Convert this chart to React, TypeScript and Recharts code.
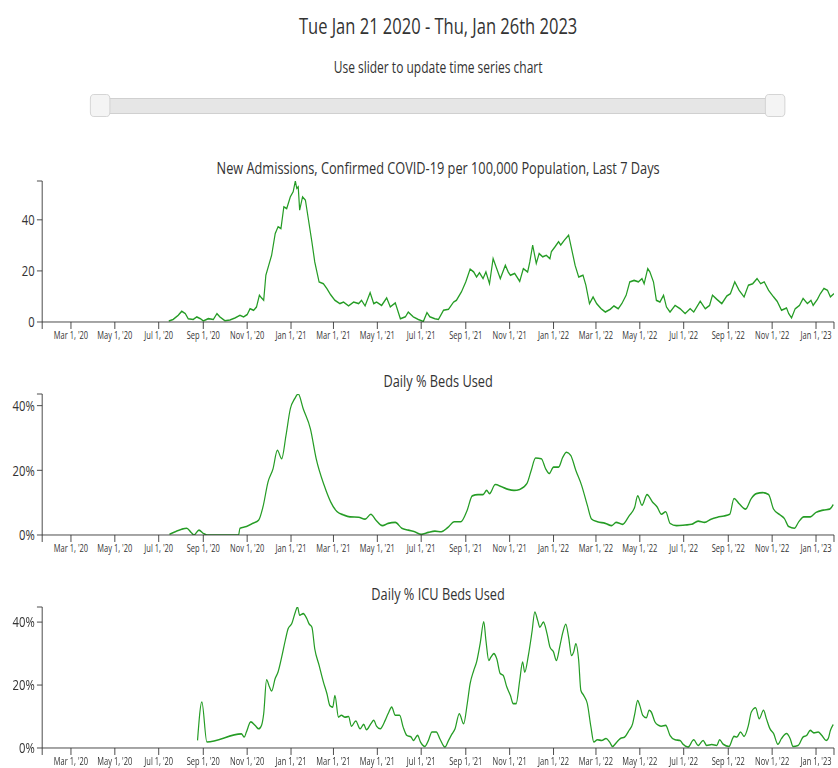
import React from 'react';
import { LineChart, Line, XAxis, YAxis } from 'recharts';

// ---------- data ----------
const domainDates = ['2020-01-21', '2023-01-26'];
const xTickDates = [
  '2020-03-01', '2020-05-01', '2020-07-01', '2020-09-01', '2020-11-01',
  '2021-01-01', '2021-03-01', '2021-05-01', '2021-07-01', '2021-09-01', '2021-11-01',
  '2022-01-01', '2022-03-01', '2022-05-01', '2022-07-01', '2022-09-01', '2022-11-01',
  '2023-01-01',
];
const xTickLabels = [
  "Mar 1, '20", "May 1, '20", "Jul 1, '20", "Sep 1, '20", "Nov 1, '20",
  "Jan 1, '21", "Mar 1, '21", "May 1, '21", "Jul 1, '21", "Sep 1, '21", "Nov 1, '21",
  "Jan 1, '22", "Mar 1, '22", "May 1, '22", "Jul 1, '22", "Sep 1, '22", "Nov 1, '22",
  "Jan 1, '23",
];

const admitDates = [
  '2020-07-15', '2020-07-21', '2020-07-28', '2020-08-02', '2020-08-07', '2020-08-11', '2020-08-18', '2020-08-23',
  '2020-08-28', '2020-09-01', '2020-09-08', '2020-09-15', '2020-09-20', '2020-09-24', '2020-10-01', '2020-10-08',
  '2020-10-15', '2020-10-22', '2020-10-27', '2020-11-01', '2020-11-05', '2020-11-10', '2020-11-14', '2020-11-18',
  '2020-11-21', '2020-11-24', '2020-11-27', '2020-12-01', '2020-12-05', '2020-12-10', '2020-12-14', '2020-12-18',
  '2020-12-22', '2020-12-26', '2020-12-31', '2021-01-04', '2021-01-07', '2021-01-09', '2021-01-11', '2021-01-13',
  '2021-01-17', '2021-01-21', '2021-01-25', '2021-01-30', '2021-02-03', '2021-02-09', '2021-02-15', '2021-02-20',
  '2021-02-25', '2021-03-03', '2021-03-10', '2021-03-15', '2021-03-22', '2021-03-29', '2021-04-05', '2021-04-09',
  '2021-04-14', '2021-04-21', '2021-04-26', '2021-04-30', '2021-05-07', '2021-05-14', '2021-05-19', '2021-05-26',
  '2021-06-02', '2021-06-09', '2021-06-13', '2021-06-20', '2021-06-27', '2021-07-04', '2021-07-09', '2021-07-13',
  '2021-07-20', '2021-07-25', '2021-08-01', '2021-08-08', '2021-08-15', '2021-08-19', '2021-08-26', '2021-09-01',
  '2021-09-07', '2021-09-12', '2021-09-16', '2021-09-20', '2021-09-25', '2021-09-29', '2021-10-04', '2021-10-09',
  '2021-10-14', '2021-10-19', '2021-10-26', '2021-10-30', '2021-11-02', '2021-11-08', '2021-11-15', '2021-11-20',
  '2021-11-26', '2021-11-29', '2021-12-03', '2021-12-08', '2021-12-12', '2021-12-17', '2021-12-22', '2021-12-27',
  '2021-12-29', '2022-01-03', '2022-01-08', '2022-01-11', '2022-01-16', '2022-01-22', '2022-01-26', '2022-01-31',
  '2022-02-05', '2022-02-11', '2022-02-15', '2022-02-20', '2022-02-25', '2022-03-02', '2022-03-08', '2022-03-14',
  '2022-03-21', '2022-03-26', '2022-04-01', '2022-04-06', '2022-04-12', '2022-04-17', '2022-04-23', '2022-04-29',
  '2022-05-04', '2022-05-07', '2022-05-12', '2022-05-15', '2022-05-20', '2022-05-24', '2022-05-29', '2022-06-03',
  '2022-06-07', '2022-06-12', '2022-06-19', '2022-06-26', '2022-07-03', '2022-07-10', '2022-07-15', '2022-07-24',
  '2022-07-31', '2022-08-06', '2022-08-10', '2022-08-16', '2022-08-23', '2022-08-30', '2022-09-04', '2022-09-10',
  '2022-09-16', '2022-09-23', '2022-09-29', '2022-10-05', '2022-10-11', '2022-10-16', '2022-10-21', '2022-10-27',
  '2022-11-03', '2022-11-08', '2022-11-14', '2022-11-21', '2022-11-24', '2022-11-28', '2022-12-03', '2022-12-09',
  '2022-12-14', '2022-12-20', '2022-12-25', '2022-12-28', '2023-01-03', '2023-01-07', '2023-01-12', '2023-01-17',
  '2023-01-21', '2023-01-26',
];
const admitValues = [
  0.4, 1.0, 2.6, 4.2, 3.3, 1.3, 1.0, 2.0,
  1.3, 0.4, 1.3, 1.0, 3.3, 2.0, 0.5, 0.8,
  1.6, 2.6, 2.0, 2.9, 5.2, 4.6, 5.9, 10.5,
  9.4, 8.5, 18.3, 22.2, 26.1, 34.6, 37.3, 36.6,
  45.1, 44.4, 49.0, 51.0, 55.2, 52.3, 52.9, 43.8,
  49.0, 47.7, 40.5, 31.4, 23.5, 15.7, 15.0, 13.0,
  10.7, 8.5, 7.2, 7.8, 6.3, 7.8, 7.2, 8.5,
  6.3, 11.5, 7.2, 7.8, 6.5, 9.4, 5.9, 7.5,
  1.3, 2.0, 3.9, 2.0, 1.0, 0.2, 3.7, 2.0,
  1.3, 1.0, 4.6, 5.0, 7.8, 8.5, 11.8, 15.7,
  20.7, 19.6, 17.6, 19.3, 17.0, 19.6, 15.0, 24.8,
  20.9, 17.0, 22.2, 19.6, 18.3, 19.0, 15.9, 20.9,
  19.6, 23.5, 30.1, 22.9, 26.8, 25.5, 26.1, 24.8,
  27.5, 29.4, 31.4, 30.1, 32.0, 34.0, 28.8, 22.2,
  17.6, 18.3, 14.4, 7.2, 9.8, 7.2, 5.2, 3.9,
  5.0, 6.3, 5.2, 7.2, 10.5, 15.7, 16.3, 15.7,
  17.0, 15.0, 20.9, 19.6, 15.7, 8.5, 7.8, 10.5,
  5.9, 3.9, 6.5, 5.2, 3.3, 5.2, 3.9, 8.1,
  5.2, 6.5, 10.5, 8.9, 7.2, 10.2, 11.1, 15.7,
  12.4, 9.8, 14.4, 15.0, 17.0, 15.0, 15.7, 12.4,
  9.8, 8.1, 4.6, 5.5, 3.3, 1.6, 5.2, 6.5,
  9.2, 7.2, 8.5, 6.5, 8.9, 11.1, 13.1, 12.4,
  9.8, 11.1,
];

const bedDates = [
  '2020-07-16', '2020-07-24', '2020-08-02', '2020-08-09', '2020-08-15', '2020-08-19', '2020-08-26', '2020-09-01',
  '2020-09-06', '2020-09-28', '2020-10-20', '2020-10-22', '2020-10-31', '2020-11-09', '2020-11-17', '2020-11-23',
  '2020-11-30', '2020-12-07', '2020-12-13', '2020-12-19', '2020-12-25', '2020-12-31', '2021-01-06', '2021-01-11',
  '2021-01-18', '2021-01-28', '2021-02-05', '2021-02-16', '2021-02-25', '2021-03-06', '2021-03-15', '2021-03-24',
  '2021-04-05', '2021-04-14', '2021-04-22', '2021-04-29', '2021-05-08', '2021-05-16', '2021-05-26', '2021-06-04',
  '2021-06-13', '2021-06-22', '2021-07-01', '2021-07-11', '2021-07-20', '2021-07-29', '2021-08-07', '2021-08-16',
  '2021-08-25', '2021-09-03', '2021-09-10', '2021-09-18', '2021-09-25', '2021-09-30', '2021-10-04', '2021-10-12',
  '2021-10-21', '2021-10-30', '2021-11-07', '2021-11-15', '2021-11-25', '2021-12-01', '2021-12-07', '2021-12-15',
  '2021-12-21', '2021-12-26', '2022-01-01', '2022-01-08', '2022-01-14', '2022-01-19', '2022-01-25', '2022-02-01',
  '2022-02-09', '2022-02-17', '2022-02-23', '2022-03-03', '2022-03-14', '2022-03-23', '2022-03-29', '2022-04-07',
  '2022-04-16', '2022-04-24', '2022-04-28', '2022-05-04', '2022-05-11', '2022-05-19', '2022-05-25', '2022-05-31',
  '2022-06-06', '2022-06-12', '2022-06-21', '2022-07-03', '2022-07-12', '2022-07-21', '2022-07-30', '2022-08-08',
  '2022-08-17', '2022-08-26', '2022-09-03', '2022-09-09', '2022-09-16', '2022-09-25', '2022-10-03', '2022-10-10',
  '2022-10-19', '2022-10-27', '2022-11-03', '2022-11-12', '2022-11-18', '2022-11-24', '2022-12-02', '2022-12-08',
  '2022-12-15', '2022-12-24', '2023-01-01', '2023-01-11', '2023-01-20', '2023-01-25',
];
const bedValues = [
  0.2, 1.0, 1.8, 2.1, 0.8, 0.0, 1.5, 0.5,
  0.0, 0.0, 0.0, 2.1, 2.6, 3.6, 4.6, 8.7,
  16.4, 20.5, 26.2, 23.6, 30.8, 39.0, 42.1, 43.6,
  39.0, 32.8, 23.6, 15.4, 10.3, 7.2, 6.2, 5.6,
  5.5, 4.9, 6.4, 4.6, 2.9, 3.6, 3.9, 2.1,
  1.5, 1.0, 0.2, 0.8, 1.2, 1.0, 2.3, 4.1,
  4.1, 7.7, 12.1, 12.5, 12.5, 13.8, 12.8, 15.6,
  14.9, 14.1, 13.8, 14.1, 15.9, 20.0, 23.8, 23.6,
  20.5, 19.0, 21.0, 21.0, 24.1, 25.6, 24.6, 20.0,
  15.4, 9.2, 4.9, 4.1, 3.6, 2.9, 3.9, 3.3,
  5.9, 8.7, 12.1, 9.2, 12.5, 10.1, 8.7, 6.4,
  7.2, 3.6, 2.9, 3.1, 3.3, 4.3, 3.9, 4.9,
  5.5, 5.9, 6.4, 11.3, 9.7, 8.0, 11.3, 12.8,
  13.1, 12.5, 8.0, 6.2, 5.1, 2.6, 2.1, 4.1,
  5.6, 5.6, 7.0, 7.7, 8.0, 9.4,
];

const icuDates = [
  '2020-08-24', '2020-08-30', '2020-09-06', '2020-10-24', '2020-10-28', '2020-10-31', '2020-11-06', '2020-11-12',
  '2020-11-17', '2020-11-21', '2020-11-24', '2020-11-28', '2020-12-02', '2020-12-05', '2020-12-10', '2020-12-14',
  '2020-12-19', '2020-12-24', '2020-12-28', '2021-01-02', '2021-01-07', '2021-01-10', '2021-01-13', '2021-01-18',
  '2021-01-23', '2021-01-26', '2021-01-30', '2021-02-03', '2021-02-09', '2021-02-15', '2021-02-20', '2021-02-24',
  '2021-02-28', '2021-03-03', '2021-03-08', '2021-03-12', '2021-03-17', '2021-03-22', '2021-03-26', '2021-04-01',
  '2021-04-07', '2021-04-12', '2021-04-16', '2021-04-22', '2021-04-26', '2021-04-30', '2021-05-05', '2021-05-12',
  '2021-05-16', '2021-05-21', '2021-05-26', '2021-06-01', '2021-06-06', '2021-06-11', '2021-06-17', '2021-06-20',
  '2021-06-26', '2021-06-30', '2021-07-06', '2021-07-11', '2021-07-16', '2021-07-22', '2021-07-27', '2021-08-03',
  '2021-08-08', '2021-08-13', '2021-08-17', '2021-08-23', '2021-08-29', '2021-09-03', '2021-09-07', '2021-09-12',
  '2021-09-16', '2021-09-21', '2021-09-26', '2021-09-29', '2021-10-03', '2021-10-06', '2021-10-10', '2021-10-14',
  '2021-10-19', '2021-10-23', '2021-10-28', '2021-11-02', '2021-11-06', '2021-11-10', '2021-11-15', '2021-11-19',
  '2021-11-22', '2021-11-27', '2021-12-02', '2021-12-06', '2021-12-10', '2021-12-13', '2021-12-18', '2021-12-23',
  '2021-12-27', '2022-01-01', '2022-01-05', '2022-01-10', '2022-01-14', '2022-01-18', '2022-01-22', '2022-01-26',
  '2022-01-29', '2022-02-01', '2022-02-05', '2022-02-08', '2022-02-12', '2022-02-17', '2022-02-22', '2022-02-26',
  '2022-03-03', '2022-03-09', '2022-03-15', '2022-03-20', '2022-03-24', '2022-03-30', '2022-04-04', '2022-04-10',
  '2022-04-16', '2022-04-21', '2022-04-24', '2022-04-28', '2022-05-01', '2022-05-05', '2022-05-10', '2022-05-14',
  '2022-05-17', '2022-05-22', '2022-05-27', '2022-05-31', '2022-06-06', '2022-06-12', '2022-06-19', '2022-06-26',
  '2022-06-30', '2022-07-07', '2022-07-15', '2022-07-21', '2022-07-28', '2022-08-02', '2022-08-09', '2022-08-16',
  '2022-08-20', '2022-08-25', '2022-09-02', '2022-09-09', '2022-09-13', '2022-09-18', '2022-09-23', '2022-09-29',
  '2022-10-03', '2022-10-09', '2022-10-14', '2022-10-20', '2022-10-24', '2022-10-29', '2022-11-03', '2022-11-09',
  '2022-11-14', '2022-11-21', '2022-11-26', '2022-11-30', '2022-12-07', '2022-12-14', '2022-12-19', '2022-12-24',
  '2022-12-29', '2023-01-04', '2023-01-09', '2023-01-15', '2023-01-18', '2023-01-21', '2023-01-25',
];
const icuValues = [
  2.4, 14.6, 1.9, 4.5, 3.5, 5.1, 8.3, 7.2,
  6.1, 7.2, 10.9, 21.7, 19.4, 18.1, 22.1, 24.2,
  28.9, 34.2, 37.9, 39.5, 43.2, 44.8, 42.2, 42.7,
  41.1, 39.5, 38.4, 31.5, 26.3, 21.0, 17.2, 13.5,
  13.0, 16.7, 9.8, 10.4, 9.8, 10.0, 6.9, 8.6,
  6.1, 7.5, 5.8, 7.7, 8.8, 6.9, 6.1, 8.8,
  10.9, 13.0, 10.4, 10.4, 6.6, 4.0, 3.5, 2.4,
  4.0, 1.9, 0.5, 2.4, 5.1, 5.1, 2.9, 0.3,
  2.4, 4.5, 6.1, 10.9, 7.7, 14.0, 20.4, 24.6,
  27.3, 33.2, 40.1, 34.2, 27.8, 28.9, 30.0, 28.4,
  23.6, 23.1, 19.4, 16.7, 14.1, 14.1, 21.5, 27.3,
  24.1, 29.4, 36.8, 43.2, 40.5, 38.4, 40.0, 36.3,
  32.1, 30.5, 27.8, 32.6, 36.8, 39.3, 35.2, 29.4,
  30.5, 33.1, 27.8, 18.3, 16.7, 14.1, 6.7, 1.9,
  2.6, 2.4, 3.0, 1.9, 0.5, 1.9, 3.0, 3.5,
  5.6, 7.7, 10.9, 15.1, 13.5, 10.4, 9.6, 12.0,
  11.4, 8.3, 7.2, 6.9, 7.2, 4.0, 2.6, 2.4,
  1.2, 0.3, 2.6, 0.8, 2.4, 0.8, 1.1, 0.8,
  2.6, 1.2, 0.5, 3.7, 3.5, 5.1, 3.7, 7.2,
  11.4, 12.8, 9.3, 12.0, 9.3, 6.1, 4.6, 1.2,
  3.0, 4.6, 3.0, 0.5, 0.8, 3.5, 4.0, 5.6,
  4.8, 5.1, 4.0, 2.4, 3.0, 5.6, 7.5,
];

const countTicks = [0, 20, 40];

// ---------- layout ----------
const S = 0.75; // horizontal squeeze of the reference
const W = 838 / S;
const PLOT_L = 42.2 / S;
const PLOT_R = 834 / S;
const PLOT_H = 141;
const M_TOP = 6;
const X_H = 30;
const TXT = '#333';
const GREEN = '#259c25';

const x0 = Date.parse(domainDates[0]);
const x1 = Date.parse(domainDates[1]);
const tickMs = xTickDates.map((d) => Date.parse(d));

function fmtX(v: number) {
  const i = tickMs.indexOf(v);
  return i >= 0 ? xTickLabels[i] : '';
}

function Panel(props: {
  plotTop: number;
  titleTop: number;
  title: string;
  dates: string[];
  values: number[];
  pct: boolean;
  curve: 'linear' | 'monotone';
}) {
  const { plotTop, titleTop, title, dates, values, pct, curve } = props;
  const data = dates.map((d, i) => ({ t: Date.parse(d), v: values[i] }));
  const maxV = Math.max(...values);
  const yTicks = [...countTicks, maxV];
  const fmtY = (v: number) => (v === maxV ? '' : pct ? `${v}%` : `${v}`);
  return (
    <>
      <div
        style={{
          position: 'absolute',
          top: titleTop,
          left: PLOT_L,
          width: PLOT_R - PLOT_L,
          textAlign: 'center',
          fontSize: 17,
          color: TXT,
          lineHeight: '20px',
          whiteSpace: 'nowrap',
        }}
      >
        {title}
      </div>
      <div style={{ position: 'absolute', top: plotTop - M_TOP, left: 0 }}>
        <LineChart
          width={W}
          height={M_TOP + PLOT_H + X_H}
          data={data}
          margin={{ top: M_TOP, right: W - PLOT_R, bottom: 0, left: 0 }}
        >
          <XAxis
            dataKey="t"
            type="number"
            domain={[x0, x1]}
            ticks={[x0, ...tickMs, x1]}
            tickFormatter={fmtX}
            interval={0}
            height={X_H}
            tickSize={7}
            tickMargin={3}
            stroke={TXT}
            tick={{ fontSize: 10, fill: TXT }}
            allowDataOverflow
          />
          <YAxis
            type="number"
            width={PLOT_L}
            domain={[0, maxV]}
            ticks={yTicks}
            tickFormatter={fmtY}
            interval={0}
            tickSize={7}
            tickMargin={3}
            stroke={TXT}
            tick={{ fontSize: 15, fill: TXT }}
            allowDataOverflow
          />
          <Line
            dataKey="v"
            type={curve}
            stroke={GREEN}
            strokeWidth={1.6}
            dot={false}
            isAnimationActive={false}
          />
        </LineChart>
      </div>
    </>
  );
}

export default function App() {
  const trackL = 100 / S;
  const trackR = 775 / S;
  const handleW = 20 / S;
  return (
    <div
      style={{
        position: 'absolute',
        left: 0,
        top: 0,
        width: W,
        height: 768,
        transform: `scaleX(${S})`,
        transformOrigin: '0 0',
        fontFamily: "'Open Sans', sans-serif",
        background: '#fff',
        color: TXT,
      }}
    >
      <div
        style={{
          position: 'absolute',
          top: 10,
          left: PLOT_L,
          width: PLOT_R - PLOT_L,
          textAlign: 'center',
          fontSize: 22,
          lineHeight: '30px',
          whiteSpace: 'nowrap',
        }}
      >
        Tue Jan 21 2020 - Thu, Jan 26th 2023
      </div>
      <div
        style={{
          position: 'absolute',
          top: 57,
          left: PLOT_L,
          width: PLOT_R - PLOT_L,
          textAlign: 'center',
          fontSize: 16,
          lineHeight: '20px',
          whiteSpace: 'nowrap',
        }}
      >
        Use slider to update time series chart
      </div>
      {/* slider */}
      <div
        style={{
          position: 'absolute',
          top: 98,
          left: trackL,
          width: trackR - trackL,
          height: 16,
          background: '#e6e6e6',
          border: '1px solid #d0d0d0',
          boxSizing: 'border-box',
        }}
      />
      <div
        style={{
          position: 'absolute',
          top: 94,
          left: 90 / S,
          width: handleW,
          height: 23,
          background: '#f4f4f4',
          border: '1px solid #cfcfcf',
          borderRadius: 5,
          boxSizing: 'border-box',
        }}
      />
      <div
        style={{
          position: 'absolute',
          top: 94,
          left: 765 / S,
          width: handleW,
          height: 23,
          background: '#f4f4f4',
          border: '1px solid #cfcfcf',
          borderRadius: 5,
          boxSizing: 'border-box',
        }}
      />
      <Panel
        plotTop={181}
        titleTop={158}
        title="New Admissions, Confirmed COVID-19 per 100,000 Population, Last 7 Days"
        dates={admitDates}
        values={admitValues}
        pct={false}
        curve="linear"
      />
      <Panel
        plotTop={394}
        titleTop={371}
        title="Daily % Beds Used"
        dates={bedDates}
        values={bedValues}
        pct={true}
        curve="monotone"
      />
      <Panel
        plotTop={607}
        titleTop={584}
        title="Daily % ICU Beds Used"
        dates={icuDates}
        values={icuValues}
        pct={true}
        curve="monotone"
      />
    </div>
  );
}
